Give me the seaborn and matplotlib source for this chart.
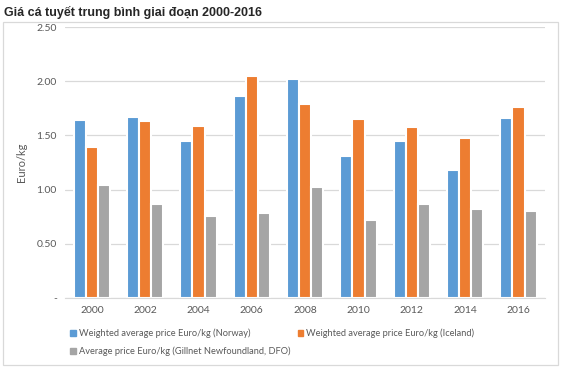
import pandas as pd
import matplotlib.pyplot as plt
import matplotlib.patches as mpatches
import seaborn as sns

# du lieu doc tu bieu do
years = ["2000", "2002", "2004", "2006", "2008", "2010", "2012", "2014", "2016"]
norway = [1.64, 1.67, 1.45, 1.86, 2.02, 1.31, 1.45, 1.18, 1.66]
iceland = [1.39, 1.63, 1.59, 2.05, 1.79, 1.65, 1.58, 1.48, 1.76]
gillnet = [1.04, 0.87, 0.76, 0.78, 1.02, 0.72, 0.87, 0.82, 0.80]
series = ["Weighted average price Euro/kg (Norway)",
          "Weighted average price Euro/kg (Iceland)",
          "Average price Euro/kg (Gillnet Newfoundland, DFO)"]
colors = ["#5B9BD5", "#ED7D31", "#A5A5A5"]

df = pd.DataFrame({
    "Year": years * 3,
    "Price": norway + iceland + gillnet,
    "Series": [s for s in series for _ in years],
})

sns.set_style("white")
plt.rcParams["font.family"] = ["Lato", "DejaVu Sans"]

fig = plt.figure(figsize=(5.62, 3.70), dpi=100)
ax = fig.add_axes([0.116, 0.195, 0.854, 0.732])

sns.barplot(data=df, x="Year", y="Price", hue="Series", palette=colors,
            saturation=1, width=0.68, edgecolor="white", linewidth=1.5,
            ax=ax, legend=False)

ax.set_ylim(0, 2.5)
ax.set_yticks([0, 0.5, 1.0, 1.5, 2.0, 2.5])
ax.set_yticklabels(["-", "0.50", "1.00", "1.50", "2.00", "2.50"])
ax.yaxis.grid(True, color="#D9D9D9", linewidth=0.9)
ax.set_axisbelow(True)
for s in ["top", "right", "left"]:
    ax.spines[s].set_visible(False)
ax.spines["bottom"].set_color("#D9D9D9")
ax.tick_params(axis="both", length=0, labelsize=7.5, colors="#595959", pad=6)
ax.set_xlabel("")
ax.set_ylabel("Euro/kg", fontsize=8, color="#595959", labelpad=7)

# chu thich
h = [mpatches.Patch(color=c) for c in colors]
fig.legend([h[0], h[2], h[1]], [series[0], series[2], series[1]],
           loc="upper left", bbox_to_anchor=(0.11, 0.135), ncol=2,
           frameon=False, fontsize=6.7, handlelength=0.6, handleheight=0.6,
           handletextpad=0.3, columnspacing=0.8, labelspacing=0.95,
           labelcolor="#595959")

# khung vien
fig.patches.append(mpatches.Rectangle((0.006, 0.014), 0.987, 0.926,
                                      transform=fig.transFigure, fill=False,
                                      edgecolor="#D9D9D9", linewidth=0.9))

fig.text(0.008, 0.965, "Giá cá tuyết trung bình giai đoạn 2000-2016",
         fontsize=9, fontweight="bold", family="Liberation Sans", va="center")

fig.savefig("out.png", dpi=100)
